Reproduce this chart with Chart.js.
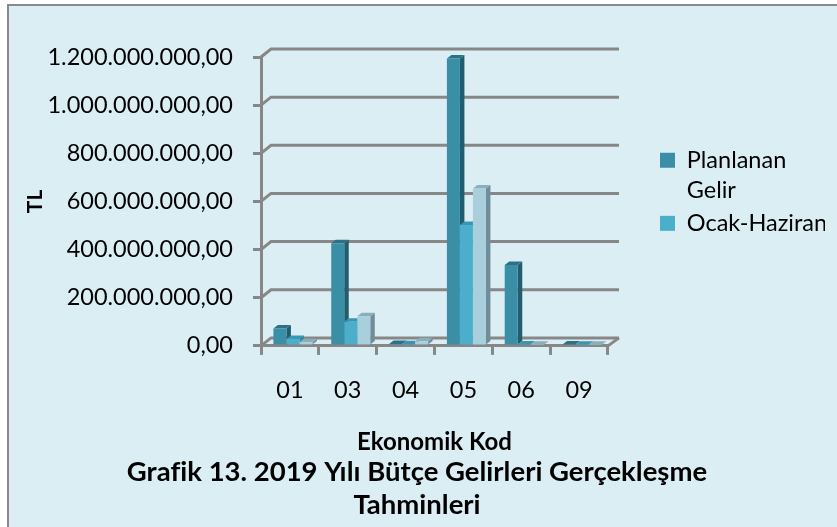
<!DOCTYPE html>
<html lang="tr">
<head>
<meta charset="utf-8">
<script src="https://cdn.jsdelivr.net/npm/chart.js@4.4.1/dist/chart.umd.min.js"></script>
<style>
html, body { margin: 0; padding: 0; background: #fff; }
#quadro {
    position: absolute; left: 7px; top: 4px; width: 830px; height: 523px;
    border-left: 2px solid #8a8a8a; border-top: 2px solid #8a8a8a;
    background: #dbeef4;
}
#grafik { display: block; }
</style>
</head>
<body>
<div id="quadro"><canvas id="grafik" width="828" height="521"></canvas></div>
<script>
const kodlar = ['01', '03', '04', '05', '06', '09'];
const seriAdlari = ['Planlanan Gelir', 'Ocak-Haziran', 'Yıl Sonu Tahmini'];
const planlanan = [68000000, 422000000, 4000000, 1190000000, 332000000, 2000000];
const ocakHaziran = [25000000, 96000000, 3000000, 498000000, 2000000, 1000000];
const yilSonu = [11000000, 119000000, 15000000, 650000000, 1000000, 1000000];
const yMax = 1200000000;
const yAdim = 200000000;

const gri = '#878787';

function formatTL(v) {
    let s = Math.round(v).toString().replace(/\B(?=(\d{3})+(?!\d))/g, '.');
    return s + ',00';
}

// 3B görünüm: arka duvar çizgileri + çubukların üst ve yan yüzleri
const ucBoyut = {
    id: 'ucBoyut',
    beforeDatasetsDraw(chart) {
        let ctx = chart.ctx;
        let a = chart.chartArea;
        let y = chart.scales.y;

        ctx.save();
        ctx.strokeStyle = gri;
        ctx.lineWidth = 3;
        y.ticks.forEach(t => {
            let py = y.getPixelForValue(t.value);
            ctx.beginPath();
            ctx.moveTo(a.left, py);
            ctx.lineTo(a.left + 10, py - 8);
            ctx.lineTo(a.right + 11, py - 8);
            ctx.stroke();
        });
        ctx.beginPath();
        ctx.moveTo(a.right, a.bottom);
        ctx.lineTo(a.right + 11, a.bottom - 8);
        ctx.stroke();
        ctx.restore();

        ctx.save();
        ctx.translate(3, -1);
        let dx = 4.5, dy = -3.5;
        chart.data.datasets.forEach((ds, i) => {
            let meta = chart.getDatasetMeta(i);
            meta.data.forEach(bar => {
                let p = bar.getProps(['x', 'y', 'base', 'width'], true);
                let l = p.x - p.width / 2, r = p.x + p.width / 2;
                ctx.fillStyle = ds.yanRenk;
                ctx.beginPath();
                ctx.moveTo(r, p.y);
                ctx.lineTo(r + dx, p.y + dy);
                ctx.lineTo(r + dx, p.base + dy);
                ctx.lineTo(r, p.base);
                ctx.closePath();
                ctx.fill();
                ctx.fillStyle = ds.ustRenk;
                ctx.beginPath();
                ctx.moveTo(l, p.y);
                ctx.lineTo(l + dx, p.y + dy);
                ctx.lineTo(r + dx, p.y + dy);
                ctx.lineTo(r, p.y);
                ctx.closePath();
                ctx.fill();
            });
        });
    },
    afterDatasetsDraw(chart) {
        chart.ctx.restore();
    }
};

Chart.defaults.font.family = 'Lato';
Chart.defaults.color = '#000';

new Chart(document.getElementById('grafik'), {
    type: 'bar',
    data: {
        labels: kodlar,
        datasets: [
            { label: seriAdlari[0], data: planlanan, backgroundColor: '#3a8ea6', ustRenk: '#2c7186', yanRenk: '#215d6e' },
            { label: seriAdlari[1], data: ocakHaziran, backgroundColor: '#4bafcb', ustRenk: '#3a96b0', yanRenk: '#3487a0' },
            { label: seriAdlari[2], data: yilSonu, backgroundColor: '#a9cfdd', ustRenk: '#8aaebb', yanRenk: '#6f8e9a' }
        ]
    },
    plugins: [ucBoyut],
    options: {
        responsive: false,
        animation: false,
        layout: { padding: { left: 0, right: 12, top: 51, bottom: 0 } },
        datasets: {
            bar: { categoryPercentage: 0.675, barPercentage: 1, borderWidth: 0 }
        },
        scales: {
            x: {
                grid: { drawOnChartArea: false, tickLength: 9, tickColor: gri, tickWidth: 3 },
                border: { color: gri, width: 3 },
                ticks: { font: { size: 23.5, lineHeight: 1.2 }, padding: 21 },
                title: { display: true, text: 'Ekonomik Kod', font: { size: 24, weight: 'bold', lineHeight: 0.5 }, padding: { top: 0, bottom: 0 } },
                afterFit: s => { s.height = 102; }
            },
            y: {
                min: 0,
                max: yMax,
                grid: { drawOnChartArea: false, tickLength: 8, tickColor: gri, tickWidth: 3 },
                border: { color: gri, width: 3 },
                ticks: { stepSize: yAdim, font: { size: 23.5 }, padding: 20, callback: v => formatTL(v) },
                title: { display: true, text: 'TL', font: { size: 21, weight: 'bold', lineHeight: 1.2 }, padding: { top: 14, bottom: 0 } },
                afterFit: s => { s.width = 252; }
            },
            y2: {
                position: 'right',
                display: true,
                grid: { display: false },
                border: { display: false },
                ticks: { display: false },
                afterFit: s => { s.width = 50; }
            }
        },
        plugins: {
            tooltip: { enabled: false },
            legend: {
                position: 'right',
                align: 'start',
                maxWidth: 167,
                title: { display: true, text: ' ', font: { size: 1, lineHeight: 1 }, padding: { top: 88.5, bottom: 0 } },
                labels: {
                    boxWidth: 15,
                    boxHeight: 15,
                    padding: 2,
                    font: { size: 23.5, lineHeight: 1.3 },
                    filter: item => item.datasetIndex < 2,
                    generateLabels: chart => Chart.defaults.plugins.legend.labels.generateLabels(chart).map(it => {
                        if (it.datasetIndex === 0) it.text = ['Planlanan', 'Gelir'];
                        return it;
                    })
                }
            },
            title: {
                display: true,
                position: 'bottom',
                text: ['Grafik 13. 2019 Yılı Bütçe Gelirleri Gerçekleşme', 'Tahminleri'],
                font: { size: 27.5, weight: 'bold', lineHeight: 1.22 },
                padding: { top: 7, bottom: 5 }
            }
        }
    }
});
</script>
</body>
</html>
